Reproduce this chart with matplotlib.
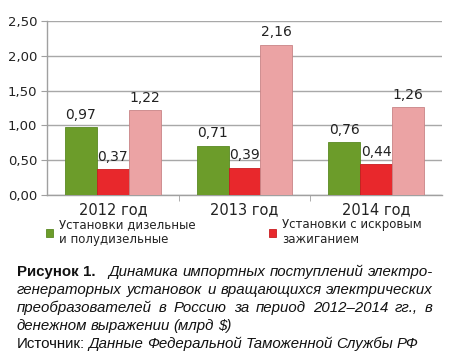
import matplotlib
matplotlib.use("Agg")
import matplotlib.pyplot as plt
import numpy as np
from matplotlib.ticker import FixedLocator, FuncFormatter

categories = ["2012 год", "2013 год", "2014 год"]
diesel = [0.97, 0.71, 0.76]
spark = [0.37, 0.39, 0.44]
other = [1.22, 2.16, 1.26]
yticks = [0.0, 0.5, 1.0, 1.5, 2.0, 2.5]
legend_labels = ["Установки дизельные\nи полудизельные", "Установки с искровым\nзажиганием"]

caption_lines = [
    [("Рисунок 1.", "bold", "normal"), ("Динамика импортных поступлений электро-", "normal", "italic")],
    [("генераторных установок и вращающихся электрических", "normal", "italic")],
    [("преобразователей в Россию за период 2012–2014 гг., в", "normal", "italic")],
    [("денежном выражении (млрд $)", "normal", "italic")],
    [("Источник:", "normal", "normal"), ("Данные Федеральной Таможенной Службы РФ", "normal", "italic")],
]
justify = [True, True, True, False, False]

W, H = 450, 362
fig = plt.figure(figsize=(W / 100, H / 100), dpi=100)
ax = fig.add_axes([47 / W, 1 - 195 / H, (442 - 47) / W, (195 - 21) / H])

x = np.arange(len(categories))
bw = 32 / 132
c_green, c_red, c_pink = "#6c9c2a", "#e8282c", "#eba3a4"
b1 = ax.bar(x - bw, diesel, bw, color=c_green, edgecolor="#5a8a22", linewidth=0.6, zorder=3)
b2 = ax.bar(x, spark, bw, color=c_red, edgecolor="#c81c20", linewidth=0.6, zorder=3)
b3 = ax.bar(x + bw, other, bw, color=c_pink, edgecolor="#c88486", linewidth=0.6, zorder=3)

fmt = lambda v: f"{v:.2f}".replace(".", ",")
for b, vals in ((b1, diesel), (b2, spark), (b3, other)):
    ax.bar_label(b, labels=[fmt(v) for v in vals], padding=4, fontsize=10, color="#222222",
                 family="DejaVu Sans")

ax.set_xlim(-0.5, 2.5)
ax.set_ylim(0, 2.5)
ax.yaxis.set_major_locator(FixedLocator(yticks))
ax.yaxis.set_major_formatter(FuncFormatter(lambda v, p: fmt(v)))
ax.grid(axis="y", color="#a8a8a8", linewidth=1.0, zorder=0)
ax.set_axisbelow(True)
ax.set_xticks(x)
ax.set_xticklabels(categories, fontsize=10.5, color="#222222")
ax.tick_params(axis="x", length=0, pad=5)
ax.set_xticks([0.5, 1.5], minor=True)
ax.tick_params(axis="x", which="minor", length=4, color="#a0a0a0", direction="out")
ax.tick_params(axis="y", length=4, color="#a0a0a0", labelsize=9.5, labelcolor="#222222", pad=3)
for s in ("top", "right"):
    ax.spines[s].set_visible(False)
for s in ("left", "bottom"):
    ax.spines[s].set_color("#a0a0a0")
    ax.spines[s].set_linewidth(1.0)

leg = fig.legend([b1, b2], legend_labels, loc="upper left", bbox_to_anchor=(46 / W, 1 - 218 / H),
                 ncol=2, frameon=False, fontsize=8.5, handlelength=0.6, handleheight=0.6,
                 handletextpad=0.5, columnspacing=6.2, borderaxespad=0, borderpad=0)
for t in leg.get_texts():
    t.set_color("#222222")

# caption with justification
renderer = fig.canvas.get_renderer()
x0, x1 = 17, 433
ys = [272, 290, 308, 326, 344]
cap_font = "Liberation Sans"
fs = 10.8
seg_extra = 8
for line, y, just in zip(caption_lines, ys, justify):
    words = []
    for seg_i, (txt, weight, style) in enumerate(line):
        for w in txt.split(" "):
            words.append((w, weight, style, seg_i))
    objs = []
    for w, weight, style, seg_i in words:
        t = fig.text(0, 1 - y / H, w, fontsize=fs, family=cap_font, fontweight=weight,
                     fontstyle=style, va="center", ha="left", color="#111111")
        objs.append(t)
    widths = [t.get_window_extent(renderer).width for t in objs]
    total = sum(widths)
    n = len(objs)
    nseg = len(line) - 1
    if just and n > 1:
        gap = (x1 - x0 - total - seg_extra * nseg) / (n - 1)
    else:
        gap = 3.5
    cx = x0
    prev_seg = words[0][3]
    for (w, weight, style, seg_i), t, wd in zip(words, objs, widths):
        if seg_i != prev_seg and just:
            cx += seg_extra
        prev_seg = seg_i
        t.set_x(cx / W)
        cx += wd + gap

fig.savefig("out.png", dpi=100)
